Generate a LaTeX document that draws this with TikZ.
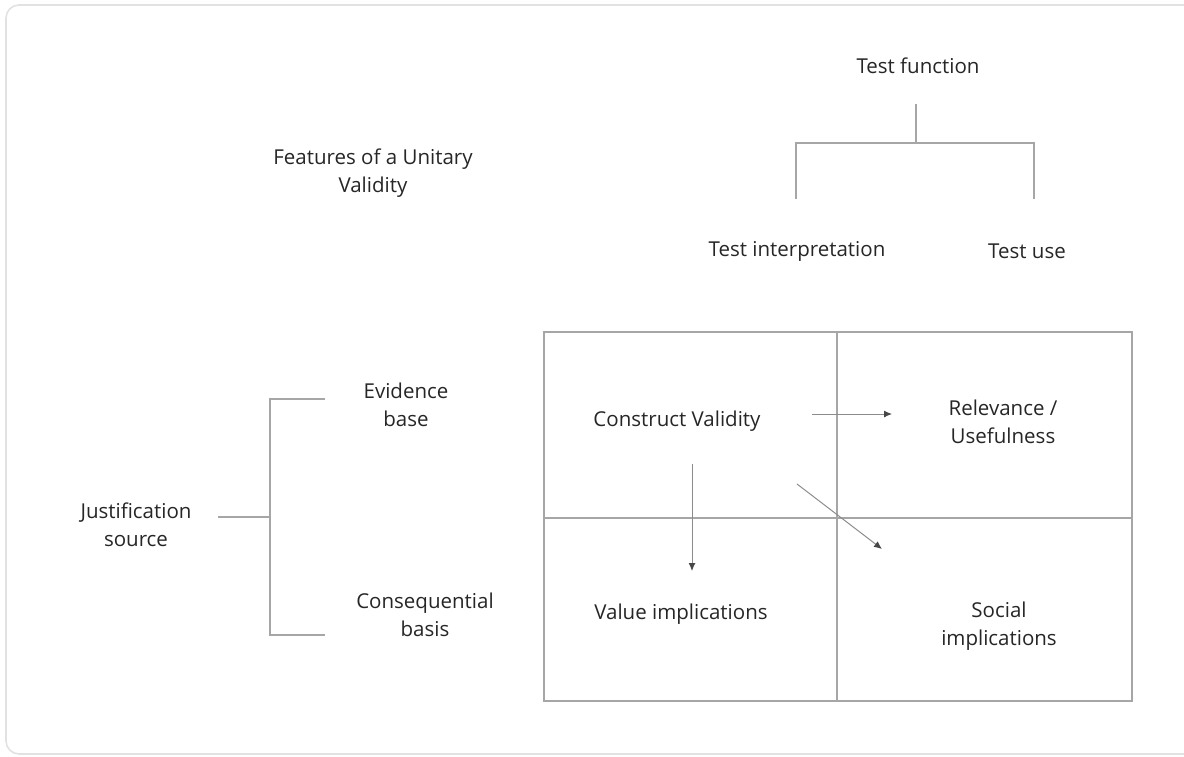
\documentclass[tikz,border=0pt]{standalone}
\usepackage{fontspec}
\setmainfont{Open Sans}
\usetikzlibrary{arrows.meta}
\definecolor{rule}{HTML}{A6A6A6}
\definecolor{frameline}{HTML}{E2E2E2}
\definecolor{ink}{HTML}{262626}
\definecolor{arrowink}{HTML}{8C8C8C}
\tikzset{
  lbl/.style={font=\fontsize{20.5}{28}\selectfont, text=ink, align=center, inner sep=0pt},
  bracket/.style={draw=rule, line width=1.4pt},
  gridline/.style={draw=rule, line width=1.4pt},
  flow/.style={draw=arrowink, line width=1pt, -{Latex[length=8pt,width=7pt,color=ink!85]}},
}
\begin{document}
\begin{tikzpicture}[x=1pt,y=-1pt]
\useasboundingbox (0,0) rectangle (1184,756);
% outer card
\draw[frameline, line width=1.6pt, rounded corners=13pt] (6,5) rectangle (1200,754);

% headings
\node[lbl] (tf) at (918,66) {Test function};
\node[lbl] (feat) at (373,173) {Features of a Unitary\\Validity};
\node[lbl] (ti) at (797,251) {Test interpretation};
\node[lbl] (tu) at (1027,251) {Test use};

% left labels
\node[lbl] (ev) at (406,405) {Evidence\\base};
\node[lbl] (js) at (136,525) {Justification\\source};
\node[lbl] (cb) at (425,615) {Consequential\\basis};

% top bracket
\coordinate (tfa) at (916,104);
\coordinate (tfb) at (916,143);
\coordinate (tl) at (796,143);
\coordinate (tr) at (1034,143);
\coordinate (tld) at (796,199);
\coordinate (trd) at (1034,199);
\draw[bracket] (tfa) -- (tfb);
\draw[bracket] (tld) -- (tl) -- (tr) -- (trd);

% left bracket
\coordinate (ja) at (218,517);
\coordinate (jb) at (270,517);
\coordinate (lt) at (270,399);
\coordinate (lb) at (270,635);
\coordinate (lte) at (325,399);
\coordinate (lbe) at (325,635);
\draw[bracket] (ja) -- (jb);
\draw[bracket] (lte) -- (lt) -- (lb) -- (lbe);

% the 2x2 matrix
\coordinate (g1) at (544,332);
\coordinate (g2) at (1132,701);
\draw[gridline] (g1) rectangle (g2);
\coordinate (vt) at (837,332);
\coordinate (vb) at (837,701);
\coordinate (hl) at (544,518);
\coordinate (hr) at (1132,518);
\draw[gridline] (vt) -- (vb);
\draw[gridline] (hl) -- (hr);

% cell texts
\node[lbl] (cv) at (677,421) {Construct Validity};
\node[lbl] (ru) at (1003,422) {Relevance /\\Usefulness};
\node[lbl] (vi) at (681,614) {Value implications};
\node[lbl] (si) at (999,626) {Social\\implications};

% arrows between the cells
\coordinate (a1s) at (812,414);
\coordinate (a1e) at (892,414);
\coordinate (a2s) at (692,464);
\coordinate (a2e) at (692,571);
\coordinate (a3s) at (797,484);
\coordinate (a3e) at (882,549);
\draw[flow] (a1s) -- (a1e);
\draw[flow] (a2s) -- (a2e);
\draw[flow] (a3s) -- (a3e);
\end{tikzpicture}
\end{document}
